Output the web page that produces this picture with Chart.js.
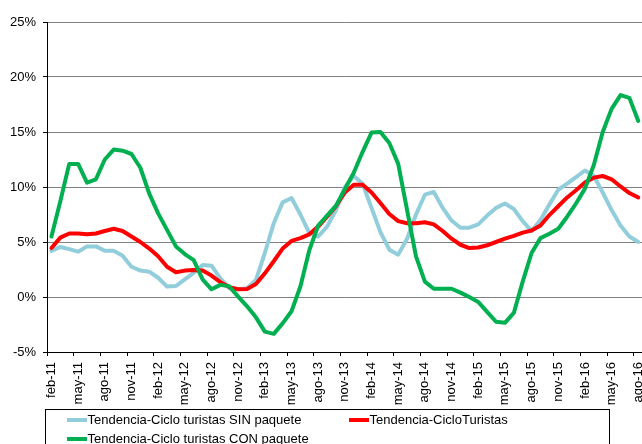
<!DOCTYPE html>
<html>
<head>
<meta charset="utf-8">
<script src="https://cdn.jsdelivr.net/npm/chart.js@4"></script>
<style>
  html, body { margin: 0; padding: 0; overflow: hidden; background: #fff; }
  #wrap { width: 642px; height: 444px; overflow: hidden; }
  canvas { display: block; }
</style>
</head>
<body>
<div id="wrap"><canvas id="c" width="660" height="444"></canvas></div>
<script>
const categories = [
  'feb-11','mar-11','abr-11','may-11','jun-11','jul-11','ago-11','sep-11','oct-11','nov-11','dic-11',
  'ene-12','feb-12','mar-12','abr-12','may-12','jun-12','jul-12','ago-12','sep-12','oct-12','nov-12','dic-12',
  'ene-13','feb-13','mar-13','abr-13','may-13','jun-13','jul-13','ago-13','sep-13','oct-13','nov-13','dic-13',
  'ene-14','feb-14','mar-14','abr-14','may-14','jun-14','jul-14','ago-14','sep-14','oct-14','nov-14','dic-14',
  'ene-15','feb-15','mar-15','abr-15','may-15','jun-15','jul-15','ago-15','sep-15','oct-15','nov-15','dic-15',
  'ene-16','feb-16','mar-16','abr-16','may-16','jun-16','jul-16','ago-16'
];

const seriesNames = [
  'Tendencia-Ciclo turistas SIN paquete',
  'Tendencia-CicloTuristas',
  'Tendencia-Ciclo turistas CON paquete'
];

const sinPaquete = [
  4.2, 4.55, 4.35, 4.12, 4.6, 4.6, 4.2, 4.2, 3.75, 2.75,
  2.4, 2.3, 1.75, 0.95, 1.0, 1.6, 2.2, 2.9, 2.85, 1.7,
  0.8, 0.7, 0.8, 1.55, 4.0, 6.7, 8.6, 9.0, 7.5, 5.8,
  5.5, 6.4, 7.9, 10.0, 11.0, 10.3, 8.1, 5.9, 4.3, 3.85,
  5.3, 7.5, 9.3, 9.55, 8.1, 6.95, 6.3, 6.3, 6.6, 7.4,
  8.1, 8.5, 8.0, 6.9, 6.0, 7.0, 8.4, 9.75, 10.3, 10.9,
  11.5, 11.0, 9.5, 7.9, 6.5, 5.5, 5.0
];

const cicloTuristas = [
  4.45, 5.4, 5.77, 5.77, 5.7, 5.77, 6.0, 6.2, 6.0, 5.5,
  5.0, 4.4, 3.7, 2.75, 2.25, 2.4, 2.45, 2.4, 1.95, 1.35,
  0.9, 0.7, 0.72, 1.18, 2.15, 3.25, 4.4, 5.1, 5.35, 5.7,
  6.4, 7.3, 8.25, 9.5, 10.2, 10.2, 9.5, 8.55, 7.55, 6.9,
  6.7, 6.7, 6.8, 6.6, 6.0, 5.3, 4.75, 4.45, 4.5, 4.7,
  5.0, 5.3, 5.55, 5.85, 6.05, 6.5, 7.45, 8.25, 9.05, 9.7,
  10.4, 10.85, 11.0, 10.7, 10.05, 9.45, 9.05
];

const conPaquete = [
  5.5, 8.7, 12.1, 12.1, 10.4, 10.7, 12.5, 13.4, 13.3, 13.0,
  11.75, 9.4, 7.6, 6.1, 4.6, 3.9, 3.35, 1.6, 0.7, 1.1,
  0.97, 0.03, -0.85, -1.85, -3.15, -3.35, -2.4, -1.3, 0.95, 4.25,
  6.5, 7.4, 8.3, 9.8, 11.3, 13.2, 14.95, 15.0, 14.0, 12.1,
  7.9, 3.7, 1.4, 0.75, 0.75, 0.75, 0.4, 0.0, -0.45, -1.35,
  -2.25, -2.35, -1.45, 1.4, 4.0, 5.35, 5.75, 6.2, 7.3, 8.5,
  9.85, 12.0, 15.0, 17.1, 18.35, 18.1, 16.0
];

const yTicks = { min: -5, max: 25, step: 5 };
const labelEvery = 3;

const colors = ['#92CDDC', '#FF0000', '#00B050'];
const FONT = '"Liberation Sans", Arial, sans-serif';

const legendPlugin = {
  id: 'excelLegend',
  afterDraw(chart) {
    const ctx = chart.ctx;
    ctx.save();
    ctx.strokeStyle = '#000';
    ctx.lineWidth = 1;
    ctx.strokeRect(45.5, 409.5, 564, 60);
    const slots = [
      { ds: 0, x: 67, y: 420 },
      { ds: 1, x: 349, y: 420 },
      { ds: 2, x: 67, y: 439 }
    ];
    ctx.font = '13px ' + FONT;
    ctx.textBaseline = 'middle';
    ctx.textAlign = 'left';
    slots.forEach(s => {
      const d = chart.data.datasets[s.ds];
      ctx.strokeStyle = d.borderColor;
      ctx.lineWidth = 4;
      ctx.lineCap = 'butt';
      ctx.beginPath();
      ctx.moveTo(s.x, s.y);
      ctx.lineTo(s.x + 20, s.y);
      ctx.stroke();
      ctx.fillStyle = '#000';
      ctx.fillText(d.label, s.x + 20.5, s.y + 0.5);
    });
    ctx.restore();
  }
};

Chart.defaults.font.family = FONT;
Chart.defaults.font.size = 13;
Chart.defaults.color = '#000';

new Chart(document.getElementById('c'), {
  type: 'line',
  data: {
    labels: categories,
    datasets: [
      { label: seriesNames[0], data: sinPaquete, borderColor: colors[0], backgroundColor: colors[0], order: 3 },
      { label: seriesNames[1], data: cicloTuristas, borderColor: colors[1], backgroundColor: colors[1], order: 2 },
      { label: seriesNames[2], data: conPaquete, borderColor: colors[2], backgroundColor: colors[2], order: 1 }
    ]
  },
  options: {
    responsive: false,
    devicePixelRatio: 1,
    animation: false,
    layout: { padding: { top: 22, left: 0, right: 16.6, bottom: 0 } },
    elements: {
      line: { borderWidth: 4, tension: 0, borderJoinStyle: 'round', borderCapStyle: 'round', fill: false },
      point: { radius: 0, hoverRadius: 0 }
    },
    plugins: {
      legend: { display: false },
      tooltip: { enabled: false }
    },
    scales: {
      x: {
        type: 'category',
        offset: true,
        afterFit: s => { s.height = 92; },
        grid: {
          offset: true,
          drawOnChartArea: false,
          drawTicks: true,
          tickLength: 4,
          tickWidth: 1,
          tickColor: ctx => (ctx.index % labelEvery === 0 ? '#000' : 'rgba(0,0,0,0)')
        },
        border: { display: true, color: '#000', width: 1 },
        ticks: {
          autoSkip: false,
          maxRotation: 90,
          minRotation: 90,
          padding: 6,
          color: '#000',
          font: { size: 13, family: FONT },
          callback: function (value, index) {
            return index % labelEvery === 0 ? categories[index] : '';
          }
        }
      },
      y: {
        min: yTicks.min,
        max: yTicks.max,
        afterFit: s => { s.width = 47; },
        grid: {
          color: '#808080',
          lineWidth: 1,
          tickLength: 4,
          tickColor: '#000'
        },
        border: { display: true, color: '#000', width: 1 },
        ticks: {
          stepSize: yTicks.step,
          padding: 7,
          color: '#000',
          font: { size: 13, family: FONT },
          callback: v => v + '%'
        }
      }
    }
  },
  plugins: [legendPlugin]
});
</script>
</body>
</html>
